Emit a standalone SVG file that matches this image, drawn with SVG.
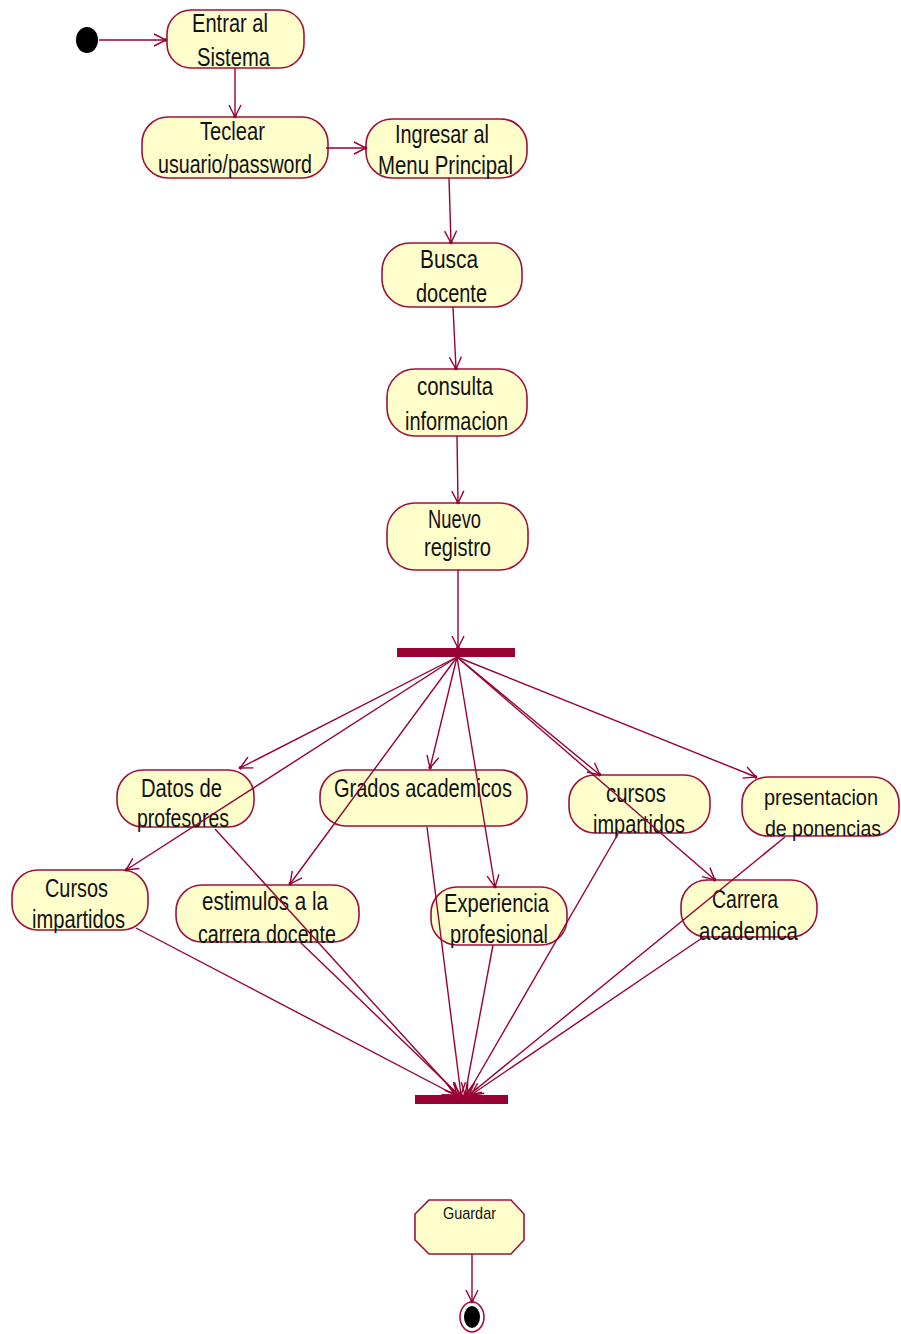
<svg xmlns="http://www.w3.org/2000/svg" width="901" height="1334" viewBox="0 0 901 1334">
  <style>
    .node { fill: #ffffcc; stroke: #a0103c; stroke-width: 1.6; }
    .t { font-family: "Liberation Sans", Arial, sans-serif; font-size: 26px; fill: #111; text-anchor: middle; }
    .narrow { font-size: 22px; }
    .small { font-size: 17px; }
    .edge { fill: none; stroke: #990033; stroke-width: 1.4; marker-end: url(#arrow); }
    .bar { fill: #990033; }
  </style>
  <defs>
    <marker id="arrow" markerUnits="userSpaceOnUse" markerWidth="16" markerHeight="16" viewBox="0 0 16 16" refX="14" refY="8" orient="auto">
      <path d="M2,2 L14,8 L2,14" fill="none" stroke="#990033" stroke-width="1.4"/>
      <circle cx="13.5" cy="8" r="1.8" fill="#990033"/>
    </marker>
  </defs>
  <rect width="901" height="1334" fill="#ffffff"/>

  <!-- start / end states -->
  <g id="start"><ellipse cx="87" cy="40" rx="11" ry="13" fill="#000"/></g>
  <g id="end">
    <ellipse cx="472" cy="1317" rx="12" ry="15" fill="#fff" stroke="#a0103c" stroke-width="1.6"/>
    <ellipse cx="472" cy="1317" rx="8" ry="11" fill="#000"/>
  </g>

  <!-- activities -->
  <g id="entrar">
    <rect class="node" x="167" y="10" width="137" height="58" rx="24" ry="24"/>
    <text class="t" x="230" y="32" textLength="76" lengthAdjust="spacingAndGlyphs">Entrar al</text>
    <text class="t" x="233.5" y="66" textLength="73" lengthAdjust="spacingAndGlyphs">Sistema</text>
  </g>
  <g id="teclear">
    <rect class="node" x="142" y="117" width="186" height="61" rx="26" ry="26"/>
    <text class="t" x="232.5" y="140" textLength="65" lengthAdjust="spacingAndGlyphs">Teclear</text>
    <text class="t" x="235" y="173" textLength="154" lengthAdjust="spacingAndGlyphs">usuario/password</text>
  </g>
  <g id="ingresar">
    <rect class="node" x="366" y="119" width="161" height="59" rx="26" ry="26"/>
    <text class="t" x="442" y="143" textLength="94" lengthAdjust="spacingAndGlyphs">Ingresar al</text>
    <text class="t" x="445.5" y="174" textLength="135" lengthAdjust="spacingAndGlyphs">Menu Principal</text>
  </g>
  <g id="busca">
    <rect class="node" x="382" y="243" width="140" height="64" rx="28" ry="28"/>
    <text class="t" x="449" y="268" textLength="58" lengthAdjust="spacingAndGlyphs">Busca</text>
    <text class="t" x="451.5" y="302" textLength="71" lengthAdjust="spacingAndGlyphs">docente</text>
  </g>
  <g id="consulta">
    <rect class="node" x="387" y="369" width="140" height="67" rx="28" ry="28"/>
    <text class="t" x="455" y="395" textLength="76" lengthAdjust="spacingAndGlyphs">consulta</text>
    <text class="t" x="456.5" y="430" textLength="103" lengthAdjust="spacingAndGlyphs">informacion</text>
  </g>
  <g id="nuevo">
    <rect class="node" x="387" y="503" width="141" height="67" rx="28" ry="28"/>
    <text class="t" x="454.5" y="528" textLength="53" lengthAdjust="spacingAndGlyphs">Nuevo</text>
    <text class="t" x="457.5" y="556" textLength="67" lengthAdjust="spacingAndGlyphs">registro</text>
  </g>
  <g id="datos">
    <rect class="node" x="117" y="770" width="137" height="57" rx="26" ry="26"/>
    <text class="t" x="181.5" y="797" textLength="81" lengthAdjust="spacingAndGlyphs">Datos de</text>
    <text class="t" x="183" y="827" textLength="92" lengthAdjust="spacingAndGlyphs">profesores</text>
  </g>
  <g id="grados">
    <rect class="node" x="320" y="770" width="207" height="56" rx="26" ry="26"/>
    <text class="t" x="423" y="797" textLength="178" lengthAdjust="spacingAndGlyphs">Grados academicos</text>
  </g>
  <g id="cursos-impartidos-1">
    <rect class="node" x="569" y="775" width="141" height="58" rx="26" ry="26"/>
    <text class="t" x="636" y="802" textLength="60" lengthAdjust="spacingAndGlyphs">cursos</text>
    <text class="t" x="639" y="833" textLength="92" lengthAdjust="spacingAndGlyphs">impartidos</text>
  </g>
  <g id="presentacion">
    <rect class="node" x="742" y="777" width="157" height="59" rx="26" ry="26"/>
    <text class="t narrow" x="821" y="805" textLength="114" lengthAdjust="spacingAndGlyphs">presentacion</text>
    <text class="t narrow" x="823" y="836" textLength="116" lengthAdjust="spacingAndGlyphs">de ponencias</text>
  </g>
  <g id="cursos-impartidos-2">
    <rect class="node" x="12" y="870" width="136" height="60" rx="26" ry="26"/>
    <text class="t" x="76.5" y="897" textLength="63" lengthAdjust="spacingAndGlyphs">Cursos</text>
    <text class="t" x="78.5" y="928" textLength="93" lengthAdjust="spacingAndGlyphs">impartidos</text>
  </g>
  <g id="estimulos">
    <rect class="node" x="176" y="885" width="183" height="57" rx="26" ry="26"/>
    <text class="t" x="265" y="910" textLength="126" lengthAdjust="spacingAndGlyphs">estimulos a la</text>
    <text class="t" x="267" y="943" textLength="138" lengthAdjust="spacingAndGlyphs">carrera docente</text>
  </g>
  <g id="experiencia">
    <rect class="node" x="431" y="887" width="136" height="58" rx="26" ry="26"/>
    <text class="t" x="496.5" y="912" textLength="105" lengthAdjust="spacingAndGlyphs">Experiencia</text>
    <text class="t" x="499" y="943" textLength="98" lengthAdjust="spacingAndGlyphs">profesional</text>
  </g>
  <g id="carrera">
    <rect class="node" x="681" y="880" width="136" height="57" rx="26" ry="26"/>
    <text class="t" x="745" y="908" textLength="66" lengthAdjust="spacingAndGlyphs">Carrera</text>
    <text class="t" x="748.5" y="940" textLength="99" lengthAdjust="spacingAndGlyphs">academica</text>
  </g>
  <g id="guardar">
    <polygon class="node" points="429,1200 511,1200 524,1214 524,1240 511,1254 429,1254 415,1240 415,1214"/>
    <text class="t small" x="469.5" y="1219" textLength="53" lengthAdjust="spacingAndGlyphs">Guardar</text>
  </g>

  <!-- synchronisation bars -->
  <g id="fork"><rect class="bar" x="397" y="648" width="118" height="9"/></g>
  <g id="join"><rect class="bar" x="415" y="1095" width="93" height="9"/></g>

  <!-- transitions -->
  <g id="connectors">
    <line class="edge" x1="99" y1="40" x2="166" y2="40"/>
    <line class="edge" x1="235" y1="68" x2="235" y2="117"/>
    <line class="edge" x1="326" y1="148" x2="366" y2="148"/>
    <line class="edge" x1="449" y1="178" x2="451" y2="243"/>
    <line class="edge" x1="453" y1="307" x2="456" y2="369"/>
    <line class="edge" x1="457" y1="436" x2="458" y2="503"/>
    <line class="edge" x1="458" y1="570" x2="458" y2="648"/>

    <!-- fork outputs -->
    <line class="edge" x1="457" y1="657" x2="240" y2="768"/>
    <line class="edge" x1="457" y1="657" x2="126" y2="870"/>
    <line class="edge" x1="457" y1="657" x2="290" y2="884"/>
    <line class="edge" x1="457" y1="657" x2="430" y2="768"/>
    <line class="edge" x1="457" y1="657" x2="495" y2="887"/>
    <line class="edge" x1="457" y1="657" x2="600" y2="775"/>
    <line class="edge" x1="457" y1="657" x2="715" y2="880"/>
    <line class="edge" x1="457" y1="657" x2="756" y2="777"/>

    <!-- join inputs -->
    <line class="edge" x1="136" y1="928" x2="455" y2="1095"/>
    <line class="edge" x1="215" y1="829" x2="457" y2="1095"/>
    <line class="edge" x1="300" y1="942" x2="459" y2="1095"/>
    <line class="edge" x1="427" y1="827" x2="461" y2="1095"/>
    <line class="edge" x1="493" y1="945" x2="465" y2="1095"/>
    <line class="edge" x1="618" y1="834" x2="467" y2="1095"/>
    <line class="edge" x1="785" y1="837" x2="469" y2="1095"/>
    <line class="edge" x1="705" y1="936" x2="471" y2="1095"/>

    <line class="edge" x1="472" y1="1254" x2="472" y2="1302"/>
  </g>
</svg>
